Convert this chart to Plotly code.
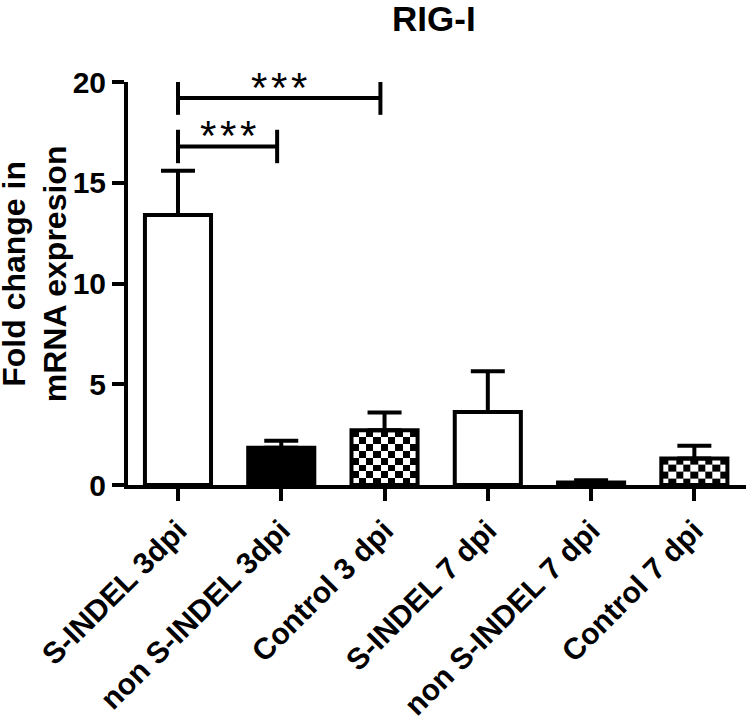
import plotly.graph_objects as go

# ---------------- data ----------------
categories = ["S-INDEL 3dpi", "non S-INDEL 3dpi", "Control 3 dpi",
              "S-INDEL 7 dpi", "non S-INDEL 7 dpi", "Control 7 dpi"]
means = [13.4, 1.85, 2.72, 3.62, 0.12, 1.31]
error_tops = [15.6, 2.2, 3.6, 5.64, 0.24, 1.95]
fill_styles = ["white", "black", "checker", "white", "black", "checker"]
y_ticks = [0, 5, 10, 15, 20]
comparisons = [(0, 1), (0, 2)]
comparison_heights = [16.8, 19.2]
comparison_stars = [3, 3]
title_text = "RIG-I"
y_title = "Fold change in<br>mRNA expresion"

# ---------------- style ----------------
FONT = "Liberation Sans, Arial, sans-serif"
LW = 4
BAR_W = 0.64
CELL_X = 0.068   # checker cell width (category units)
CELL_Y = 0.34    # checker cell height (value units)
END_INSET = 0.04  # bracket right end drawn slightly left of bar centre
TIP = 0.83        # half-height of bracket end ticks (value units)
STAR_GAP = 20     # px between star centres

x_idx = list(range(len(categories)))
fig = go.Figure()

# checkerboard fills (drawn beneath the bars)
for i, (v, s) in enumerate(zip(means, fill_styles)):
    if s != "checker":
        continue
    nx = max(1, round(BAR_W / CELL_X))
    xe = [i - BAR_W / 2 + k * BAR_W / nx for k in range(nx + 1)]
    ye = [0.0]
    while ye[-1] + CELL_Y < v - 1e-9:
        ye.append(ye[-1] + CELL_Y)
    ye.append(v)
    z = [[(r + c) % 2 for c in range(nx)] for r in range(len(ye) - 1)]
    fig.add_trace(go.Heatmap(x=xe, y=ye, z=z, zmin=0, zmax=1,
                             colorscale=[[0, "white"], [1, "black"]],
                             showscale=False, hoverinfo="skip"))

bar_colors = {"white": "white", "black": "black", "checker": "rgba(0,0,0,0)"}
fig.add_trace(go.Bar(
    x=x_idx, y=means, width=BAR_W,
    marker=dict(color=[bar_colors[s] for s in fill_styles],
                line=dict(color="black", width=LW)),
    error_y=dict(type="data", symmetric=False,
                 array=[t - m for t, m in zip(error_tops, means)],
                 arrayminus=[0] * len(means),
                 color="black", thickness=LW, width=17),
    showlegend=False,
))

# significance brackets
for (a, b), h, n in zip(comparisons, comparison_heights, comparison_stars):
    xb = b - END_INSET
    fig.add_shape(type="line", x0=a, x1=xb, y0=h, y1=h, xref="x", yref="y",
                  line=dict(color="black", width=LW))
    for xx in (a, xb):
        fig.add_shape(type="line", x0=xx, x1=xx, y0=h - TIP, y1=h + TIP,
                      xref="x", yref="y", line=dict(color="black", width=LW))
    for k in range(n):
        fig.add_annotation(x=(a + xb) / 2, y=h, xref="x", yref="y", text="*",
                           showarrow=False, yanchor="middle", xanchor="center",
                           xshift=(k - (n - 1) / 2) * STAR_GAP, yshift=11,
                           font=dict(family=FONT, size=42, color="black"))

fig.add_annotation(x=0, xref="paper", xshift=-93, xanchor="center",
                   y=0.523, yref="paper", yanchor="middle",
                   text=y_title, textangle=-90, showarrow=False,
                   font=dict(family=FONT, size=32, color="black", weight="bold"))

fig.update_layout(
    width=750, height=725,
    margin=dict(l=128, r=4, t=82, b=234),
    plot_bgcolor="white", paper_bgcolor="white",
    showlegend=False,
    title=dict(text=title_text, x=0.495, xref="paper", xanchor="center",
               y=1 - 18.5 / 725, yref="container", yanchor="middle",
               font=dict(family=FONT, size=35, color="black", weight="bold")),
    xaxis=dict(range=[-0.484, 5.5], tickvals=x_idx, ticktext=categories,
               tickangle=-45, ticks="outside", ticklen=12, tickwidth=LW,
               tickcolor="black", showline=True, linewidth=LW, linecolor="black",
               showgrid=False, zeroline=False,
               tickfont=dict(family=FONT, size=30, color="black", weight="bold")),
    yaxis=dict(range=[0, 20], tickvals=y_ticks, ticks="outside", ticklen=12,
               tickwidth=LW, tickcolor="black", showline=True, linewidth=LW,
               linecolor="black", showgrid=False, zeroline=False,
               tickfont=dict(family=FONT, size=30, color="black", weight="bold")),
)

fig.write_html("out.html", config={"displayModeBar": False},
               post_script="document.body.style.margin='0px';")
